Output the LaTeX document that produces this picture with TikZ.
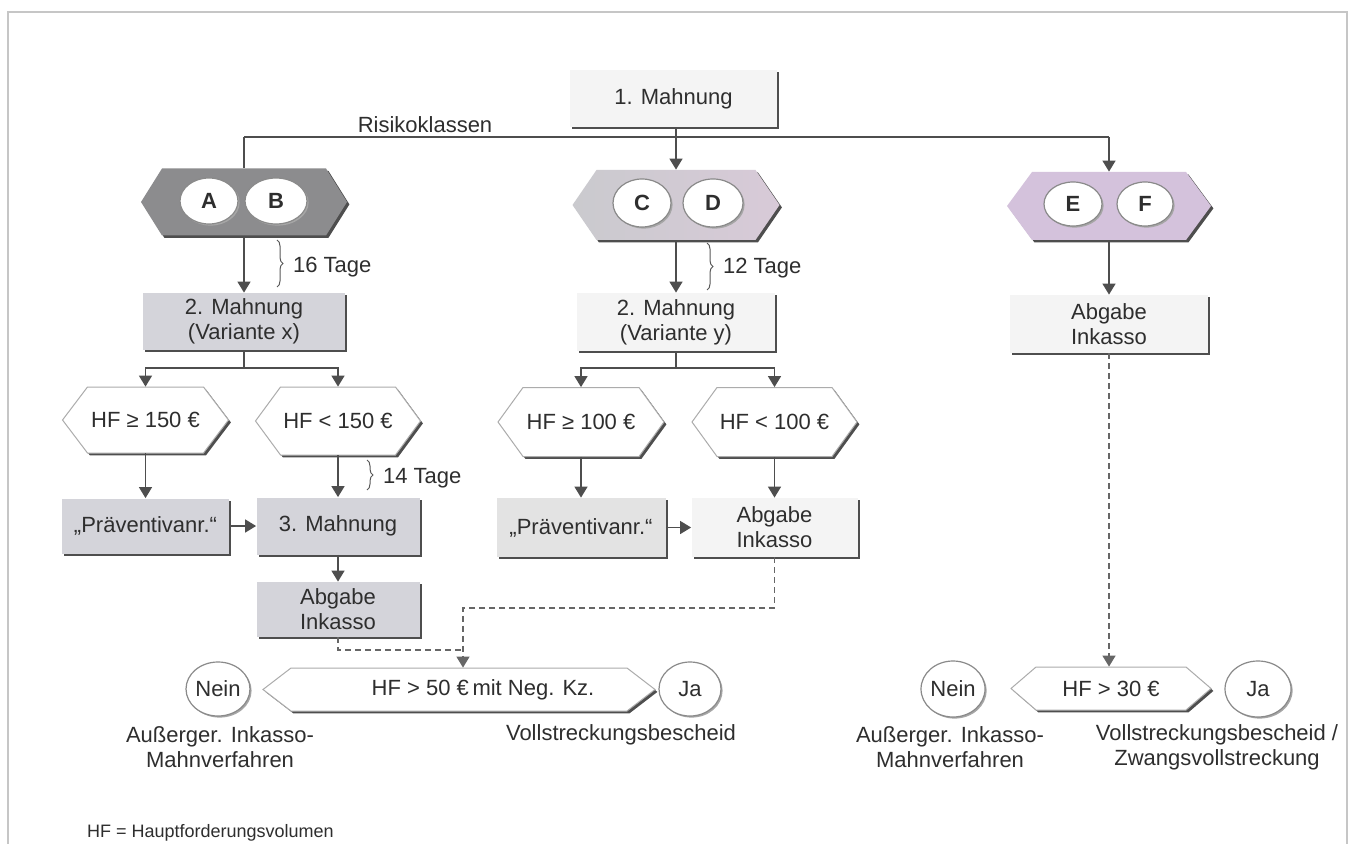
\documentclass[tikz,border=0pt]{standalone}
\usepackage{fontspec}
\setmainfont{Liberation Sans}
\usetikzlibrary{arrows.meta,shadows,decorations.pathreplacing,shapes.geometric,calc}

\definecolor{ink}{HTML}{2E2E2E}
\definecolor{edge}{HTML}{4E4E4E}
\definecolor{framec}{HTML}{C6C6C6}
\definecolor{boxgrey}{HTML}{D4D4DA}
\definecolor{boxlight}{HTML}{F4F4F4}
\definecolor{hexdark}{HTML}{8C8C8E}
\definecolor{hexmidL}{HTML}{CACACE}
\definecolor{hexmidR}{HTML}{D8CAD8}
\definecolor{hexlav}{HTML}{D4C2DC}
\definecolor{ovalrim}{HTML}{8A8A8A}

% hexagon: name, cx, cy, width, height, inset (all in px), fill style, text
\newcommand{\hexa}[8]{%
  \def\hexpts{({#2-#4/2},{#3}) -- ({#2-#4/2+#6},{#3-#5/2}) -- ({#2+#4/2-#6},{#3-#5/2})
    -- ({#2+#4/2},{#3}) -- ({#2+#4/2-#6},{#3+#5/2}) -- ({#2-#4/2+#6},{#3+#5/2}) -- cycle}%
  \path[fill=edge] [shift={(2.4,2.4)}] \hexpts;
  \path[#7] \hexpts;
  \node[hexanchor, sz={#4}{#5}] (#1) at (#2,#3) {#8};
}

\tikzset{
  sz/.style 2 args={minimum width=#1*0.5pt, minimum height=#2*0.5pt},
  hexanchor/.style={rectangle, inner sep=0pt, align=center},
  box/.style={rectangle, inner sep=0pt, align=center,
    drop shadow={shadow xshift=1.2pt, shadow yshift=-1.2pt, fill=edge, opacity=1}},
  oval/.style={ellipse, inner sep=0pt, fill=white, draw=ovalrim, line width=0.6pt,
    drop shadow={shadow xshift=0.8pt, shadow yshift=-0.8pt, fill=gray!70, opacity=1}},
  dec/.style={fill=white, draw=gray!65, line width=0.5pt},
  line/.style={draw=edge, line width=0.75pt},
  arr/.style={line, -{Triangle[length=5.5pt,width=6.5pt]}},
  dline/.style={draw=gray!80!black, line width=0.7pt, dash pattern=on 3pt off 2pt},
  darr/.style={-{Triangle[length=5.5pt,width=6.5pt]}},
  bracel/.style={draw=gray!70!black, line width=0.5pt, decorate,
    decoration={brace, amplitude=3pt}},
  framel/.style={draw=framec, line width=1pt},
}

\begin{document}
\begin{tikzpicture}[x=0.5pt, y=-0.5pt, font=\fontsize{11}{12.5}\selectfont, text=ink]
\useasboundingbox (0,0) rectangle (1352,844);
\fill[white] (0,0) rectangle (1352,844);
\draw[framel] (8,844) -- (8,12) -- (1347,12) -- (1347,844);

% top box
\node[box, fill=boxlight, sz={207}{57}] (m1) at (673.5,98.5) {1. Mahnung};
\node (rk) at (425,125) {Risikoklassen};
\coordinate (rsk) at (676,137);

% risk class hexagons
\hexa{ab}{244}{202}{206}{67}{21}{fill=hexdark}{}
\hexa{cd}{676}{205}{207}{70}{24}{left color=hexmidL, right color=hexmidR}{}
\hexa{ef}{1109}{206}{204}{68}{25}{fill=hexlav}{}

\node[oval, sz={58}{46}, font=\fontsize{11}{12.5}\selectfont\bfseries] (cA) at (209,201) {A};
\node[oval, sz={62}{46}, font=\fontsize{11}{12.5}\selectfont\bfseries] (cB) at (276,201) {B};
\node[oval, sz={58}{48}, font=\fontsize{11}{12.5}\selectfont\bfseries] (cC) at (642,203) {C};
\node[oval, sz={60}{48}, font=\fontsize{11}{12.5}\selectfont\bfseries] (cD) at (713,203) {D};
\node[oval, sz={58}{44}, font=\fontsize{11}{12.5}\selectfont\bfseries] (cE) at (1073,204) {E};
\node[oval, sz={56}{44}, font=\fontsize{11}{12.5}\selectfont\bfseries] (cF) at (1145,204) {F};

% second reminders
\node[box, fill=boxgrey, sz={202}{57}] (mx) at (244,321.5) {2. Mahnung\\(Variante x)};
\node[box, fill=boxlight, sz={198}{58}] (my) at (676,322) {2. Mahnung\\(Variante y)};
\node[box, fill=boxlight, sz={198}{58}] (ai3) at (1109,324) {Abgabe\\Inkasso};

% amount decisions
\hexa{g150}{145.5}{420}{166}{66}{25}{dec}{HF ≥ 150 €}
\hexa{g150b}{338}{421}{165}{68}{25}{dec}{HF < 150 €}
\hexa{g100}{581}{422}{166}{69}{25}{dec}{HF ≥ 100 €}
\hexa{g100b}{774.5}{422}{165}{69}{25}{dec}{HF < 100 €}

% actions
\node[box, fill=boxgrey, sz={167}{55}] (pa) at (145.5,526) {„Präventivanr.“};
\node[box, fill=boxgrey, sz={163}{57}] (m3) at (338,526) {3. Mahnung};
\node[box, fill=boxgrey, sz={163}{55}] (ai1) at (338,609.5) {Abgabe\\Inkasso};
\node[box, fill=gray!22, sz={169}{59}] (pb) at (581,527.5) {„Präventivanr.“};
\node[box, fill=boxlight, sz={166}{59}] (ai2) at (774.5,527.5) {Abgabe\\Inkasso};

% final checks
\hexa{hf50}{459}{689.5}{392}{43}{28}{dec}{\hspace*{24pt}HF > 50 €\,mit Neg. Kz.}
\hexa{hf30}{1111}{688.5}{200}{43}{25}{dec}{HF > 30 €}

\node[oval, sz={60}{54}] (nein1) at (218,689) {Nein};
\node[oval, sz={62}{54}] (ja1) at (690,689) {Ja};
\node[oval, sz={62}{56}] (nein2) at (953,689) {Nein};
\node[oval, sz={66}{56}] (ja2) at (1258,689) {Ja};

\node[align=center] (t1) at (220,747) {Außerger. Inkasso-\\Mahnverfahren};
\node (t2) at (621,735) {Vollstreckungsbescheid};
\node[align=center] (t3) at (950,747) {Außerger. Inkasso-\\Mahnverfahren};
\node[align=center] (t4) at (1217,747) {Vollstreckungsbescheid /\\Zwangsvollstreckung};

\node[anchor=west, font=\fontsize{9}{10}\selectfont] (fn) at (80,833) {HF = Hauptforderungsvolumen};

% connectors
\draw[arr] (m1.south -| cd.north) -- (cd.north);
\draw[line] (ab.north |- rsk) -- (ef.north |- rsk);
\draw[line] (ab.north |- rsk) -- (ab.north);
\draw[arr] (ef.north |- rsk) -- (ef.north);

\draw[arr] (ab.south) -- (mx.north);
\draw[arr] (cd.south) -- (my.north);
\draw[arr] (ef.south) -- (ai3.north);

\coordinate (sx) at (244,368);
\draw[line] (mx.south) -- (sx);
\draw[arr] (sx) -| (g150.north);
\draw[arr] (sx) -| (g150b.north);
\coordinate (sy) at (676,368);
\draw[line] (my.south) -- (sy);
\draw[arr] (sy) -| (g100.north);
\draw[arr] (sy) -| (g100b.north);

\draw[arr] (g150.south) -- (pa.north);
\draw[arr] (g150b.south) -- (m3.north);
\draw[arr] (pa.east) -- (m3.west);
\draw[arr] (m3.south) -- (ai1.north);
\draw[arr] (g100.south) -- (pb.north);
\draw[arr] (g100b.south) -- (ai2.north);
\draw[arr] (pb.east) -- (ai2.west);

\coordinate (j1) at (463,650);
\coordinate (j2) at (463,608);
\draw[dline] (ai1.south) |- (j1);
\draw[dline, darr] (ai2.south) |- (j2) -- (j2 |- hf50.north);
\draw[dline, darr] (ai3.south) -- (ai3.south |- hf30.north);

% waiting periods
\draw[bracel] (277,240) -- (277,287);
\node[anchor=west] (d16) at (286,267) {16 Tage};
\draw[bracel] (707,243) -- (707,290);
\node[anchor=west] (d12) at (716,268) {12 Tage};
\draw[bracel] (367,460) -- (367,490);
\node[anchor=west] (d14) at (376,478) {14 Tage};
\end{tikzpicture}
\end{document}
